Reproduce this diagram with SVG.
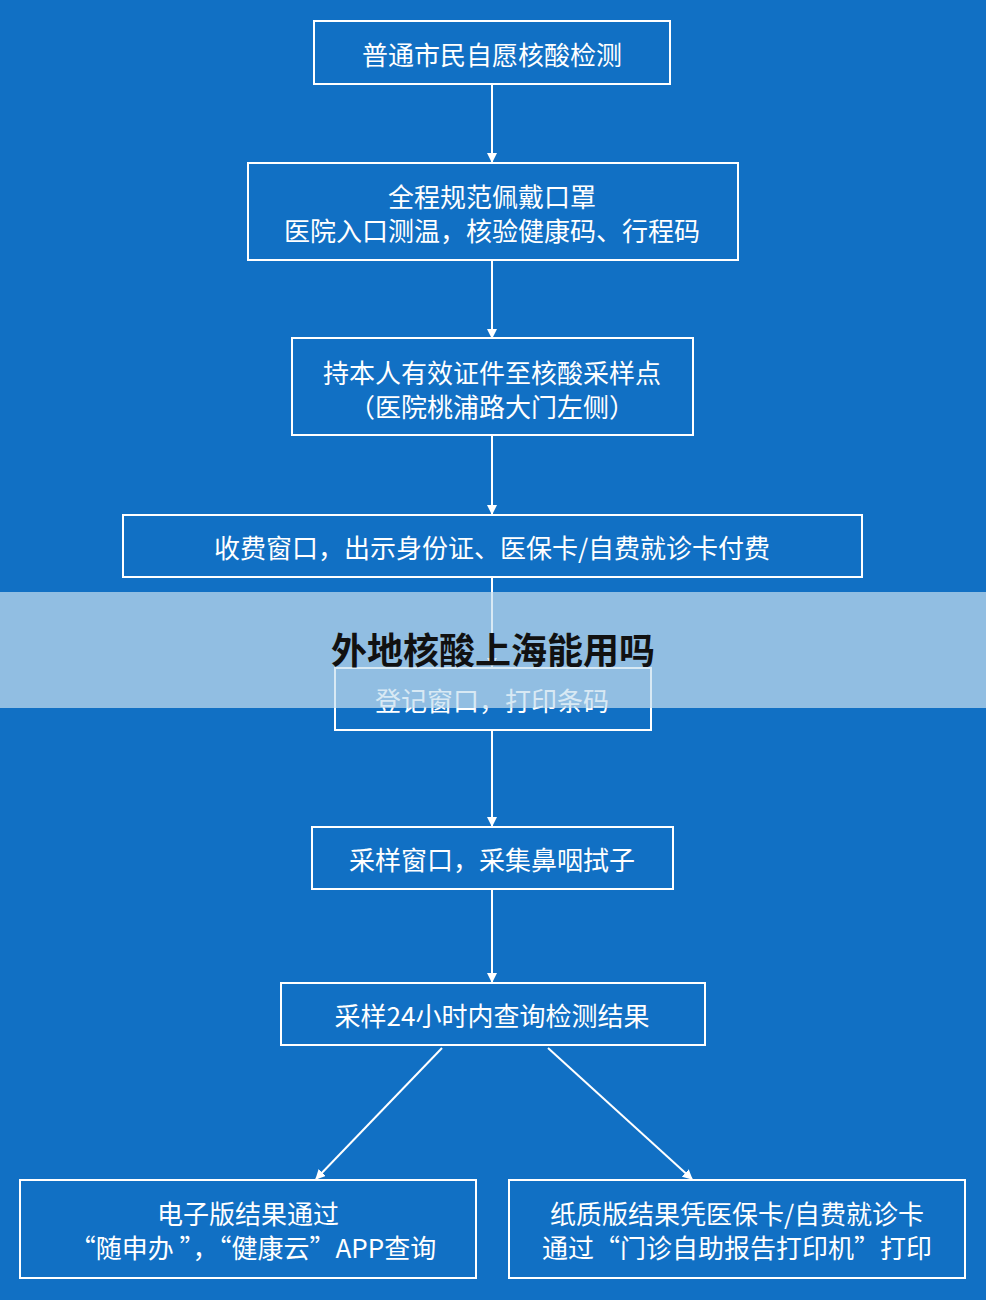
<svg xmlns="http://www.w3.org/2000/svg" width="986" height="1300" viewBox="0 0 986 1300">
<style>
.b{fill:none;stroke:#fff;stroke-width:2}
.t{fill:#fff;font-family:"Noto Sans CJK SC","Liberation Sans",sans-serif;font-size:26px;text-anchor:middle;dominant-baseline:central}
.c{stroke:#fff;stroke-width:2;fill:none;marker-end:url(#a)}
</style>
<defs><marker id="a" markerWidth="10" markerHeight="10" refX="9" refY="5" orient="auto" markerUnits="userSpaceOnUse"><path d="M0,0L10,5L0,10z" fill="#fff"/></marker></defs>
<rect width="986" height="1300" fill="#1170c4"/>
<g id="connectors">
<line class="c" x1="492" y1="84" x2="492" y2="162"/>
<line class="c" x1="492" y1="260" x2="492" y2="338"/>
<line class="c" x1="492" y1="435" x2="492" y2="514"/>
<line class="c" x1="492" y1="577" x2="492" y2="667"/>
<line class="c" x1="492" y1="730" x2="492" y2="826"/>
<line class="c" x1="492" y1="889" x2="492" y2="982"/>
<line class="c" x1="442" y1="1048" x2="316" y2="1179"/>
<line class="c" x1="548" y1="1048" x2="692" y2="1179"/>
</g>
<g id="n1"><rect class="b" x="314" y="21" width="356" height="63"/><text class="t" x="492" y="53">普通市民自愿核酸检测</text></g>
<g id="n2"><rect class="b" x="248" y="163" width="490" height="97"/><text class="t" x="492" y="195">全程规范佩戴口罩</text><text class="t" x="492" y="229">医院入口测温，核验健康码、行程码</text></g>
<g id="n3"><rect class="b" x="292" y="338" width="401" height="97"/><text class="t" x="492" y="371">持本人有效证件至核酸采样点</text><text class="t" x="492" y="405">（医院桃浦路大门左侧）</text></g>
<g id="n4"><rect class="b" x="123" y="515" width="739" height="62"/><text class="t" x="492" y="546">收费窗口，出示身份证、医保卡/自费就诊卡付费</text></g>
<g id="n5"><rect class="b" x="335" y="668" width="316" height="62"/><text class="t" x="492" y="699">登记窗口，打印条码</text></g>
<g id="n6"><rect class="b" x="312" y="827" width="361" height="62"/><text class="t" x="492" y="858">采样窗口，采集鼻咽拭子</text></g>
<g id="n7"><rect class="b" x="281" y="983" width="424" height="62"/><text class="t" x="492" y="1014">采样24小时内查询检测结果</text></g>
<g id="n8"><rect class="b" x="20" y="1180" width="456" height="98"/><text class="t" x="248" y="1212">电子版结果通过</text><text class="t" x="253" y="1246">“随申办 ”，“健康云”APP查询</text></g>
<g id="n9"><rect class="b" x="509" y="1180" width="456" height="98"/><text class="t" x="737" y="1212">纸质版结果凭医保卡/自费就诊卡</text><text class="t" x="737" y="1246">通过“门诊自助报告打印机”打印</text></g>
<rect x="0" y="592" width="986" height="116" fill="#c8dff0" fill-opacity="0.7"/>
<text x="493" y="648" style="font-family:'Noto Sans CJK SC',sans-serif;font-size:36px;font-weight:bold;text-anchor:middle;dominant-baseline:central;fill:#111">外地核酸上海能用吗</text>
</svg>
